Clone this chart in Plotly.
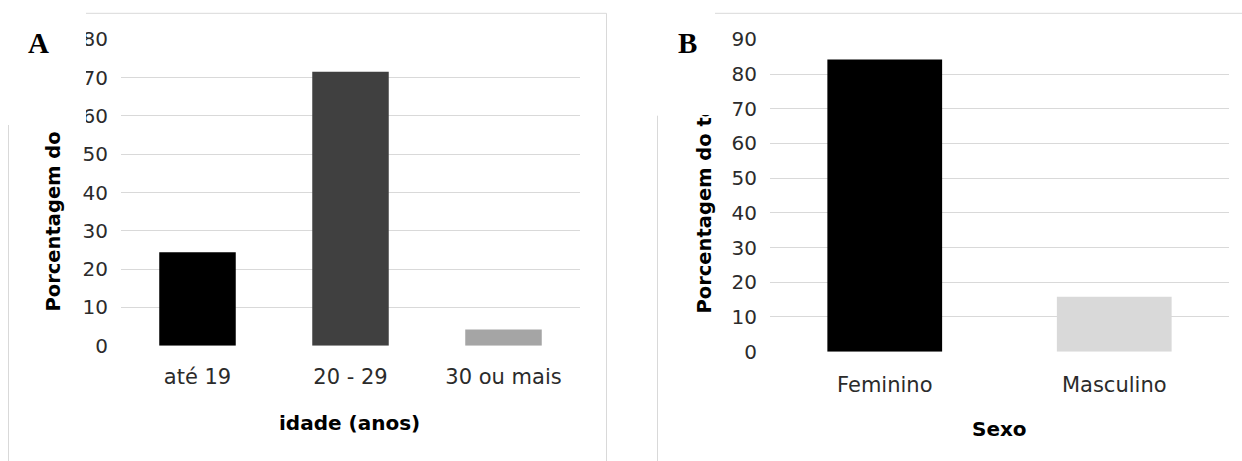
import plotly.graph_objects as go

W, H = 1242, 461

# ---- data ----
age_categories = ["até 19", "20 - 29", "30 ou mais"]
age_values = [24.4, 71.5, 4.2]
age_colors = ["#000000", "#404040", "#a5a5a5"]
age_ticks = [0, 10, 20, 30, 40, 50, 60, 70, 80]

sex_categories = ["Feminino", "Masculino"]
sex_values = [84.2, 15.8]
sex_colors = ["#000000", "#d9d9d9"]
sex_ticks = [0, 10, 20, 30, 40, 50, 60, 70, 80, 90]


def px(x):
    return x / W


def py(y):
    return 1 - y / H


GRID = "#d9d9d9"
FONT = "DejaVu Sans"
TXT = "#2b2b2b"

fig = go.Figure()
fig.add_trace(go.Bar(x=age_categories, y=age_values, marker=dict(color=age_colors, line=dict(width=0)),
                     width=0.5, xaxis="x", yaxis="y", showlegend=False))
fig.add_trace(go.Bar(x=sex_categories, y=sex_values, marker=dict(color=sex_colors, line=dict(width=0)),
                     width=0.5, xaxis="x2", yaxis="y2", showlegend=False))

axis_common = dict(showline=False, zeroline=False, ticks="", fixedrange=True, automargin=False)

fig.update_layout(
    width=W, height=H, autosize=False,
    margin=dict(l=0, r=0, t=0, b=0, autoexpand=False),
    paper_bgcolor="white", plot_bgcolor="white",
    font=dict(family=FONT, color=TXT),
    xaxis=dict(domain=[px(121), px(580)], anchor="y", showgrid=False,
               tickfont=dict(size=21, color=TXT), ticklabelstandoff=16, **axis_common),
    yaxis=dict(domain=[py(345.7), py(39.3)], anchor="x", range=[0, 80.001],
               tickvals=age_ticks, showgrid=True, gridcolor=GRID, gridwidth=1.4,
               tickfont=dict(size=20, color=TXT), ticklabelstandoff=12, **axis_common),
    xaxis2=dict(domain=[px(770), px(1229)], anchor="y2", showgrid=False,
                tickfont=dict(size=21, color=TXT), ticklabelstandoff=18, **axis_common),
    yaxis2=dict(domain=[py(351.7), py(39.3)], anchor="x2", range=[0, 90.001],
                tickvals=sex_ticks, showgrid=True, gridcolor=GRID, gridwidth=1.4,
                tickfont=dict(size=20, color=TXT), ticklabelstandoff=12, **axis_common),
)

# frame lines of the pasted chart images
frame = dict(color=GRID, width=1)
shapes = [
    dict(type="line", xref="paper", yref="paper", x0=px(86), x1=px(606.5), y0=py(13.3), y1=py(13.3), line=frame),
    dict(type="line", xref="paper", yref="paper", x0=px(606.5), x1=px(606.5), y0=py(13.3), y1=py(461), line=frame),
    dict(type="line", xref="paper", yref="paper", x0=px(8.5), x1=px(8.5), y0=py(125), y1=py(461), line=frame),
    dict(type="line", xref="paper", yref="paper", x0=px(715), x1=px(1242), y0=py(13.3), y1=py(13.3), line=frame),
    dict(type="line", xref="paper", yref="paper", x0=px(657.5), x1=px(657.5), y0=py(115.7), y1=py(461), line=frame),
]
fig.update_layout(shapes=shapes)

ann = []
# axis titles
ann.append(dict(text="<b>Porcentagem do total</b>", x=px(53), y=py(314), xref="paper", yref="paper",
                textangle=-90, xanchor="center", yanchor="bottom", showarrow=False,
                font=dict(family=FONT, size=19.5, color="#000000")))
ann.append(dict(text="<b>Porcentagem do total</b>", x=px(704), y=py(316), xref="paper", yref="paper",
                textangle=-90, xanchor="center", yanchor="bottom", showarrow=False,
                font=dict(family=FONT, size=19.5, color="#000000")))
ann.append(dict(text="<b>idade (anos)</b>", x=px(350), y=py(423), xref="paper", yref="paper",
                xanchor="center", yanchor="middle", showarrow=False,
                font=dict(family=FONT, size=20, color="#000000")))
ann.append(dict(text="<b>Sexo</b>", x=px(999.5), y=py(429), xref="paper", yref="paper",
                xanchor="center", yanchor="middle", showarrow=False,
                font=dict(family=FONT, size=20, color="#000000")))
# white masks reproducing the cropped corners of the pasted screenshots
ann.append(dict(text=" ", x=0, y=1, xref="paper", yref="paper", xanchor="left", yanchor="top",
                width=86, height=125, bgcolor="white", borderpad=0, borderwidth=0, showarrow=False))
ann.append(dict(text=" ", x=px(607.5), y=1, xref="paper", yref="paper", xanchor="left", yanchor="top",
                width=107, height=115, bgcolor="white", borderpad=0, borderwidth=0, showarrow=False))
# panel letters
ann.append(dict(text="<b>A</b>", x=px(38.5), y=py(43), xref="paper", yref="paper",
                xanchor="center", yanchor="middle", showarrow=False,
                font=dict(family="Liberation Serif", size=29, color="#000000")))
ann.append(dict(text="<b>B</b>", x=px(687), y=py(43), xref="paper", yref="paper",
                xanchor="center", yanchor="middle", showarrow=False,
                font=dict(family="Liberation Serif", size=29, color="#000000")))
fig.update_layout(annotations=ann)

post = (
    "document.documentElement.style.margin='0';"
    "document.documentElement.style.padding='0';"
    "document.documentElement.style.overflow='hidden';"
    "document.body.style.margin='0';"
    "document.body.style.padding='0';"
    "document.body.style.overflow='hidden';"
    "var d=document.getElementById('{plot_id}');"
    "d.style.position='fixed';d.style.left='0px';d.style.top='0px';"
)

fig.write_html("out.html", config={"displayModeBar": False, "responsive": False},
               post_script=post)
